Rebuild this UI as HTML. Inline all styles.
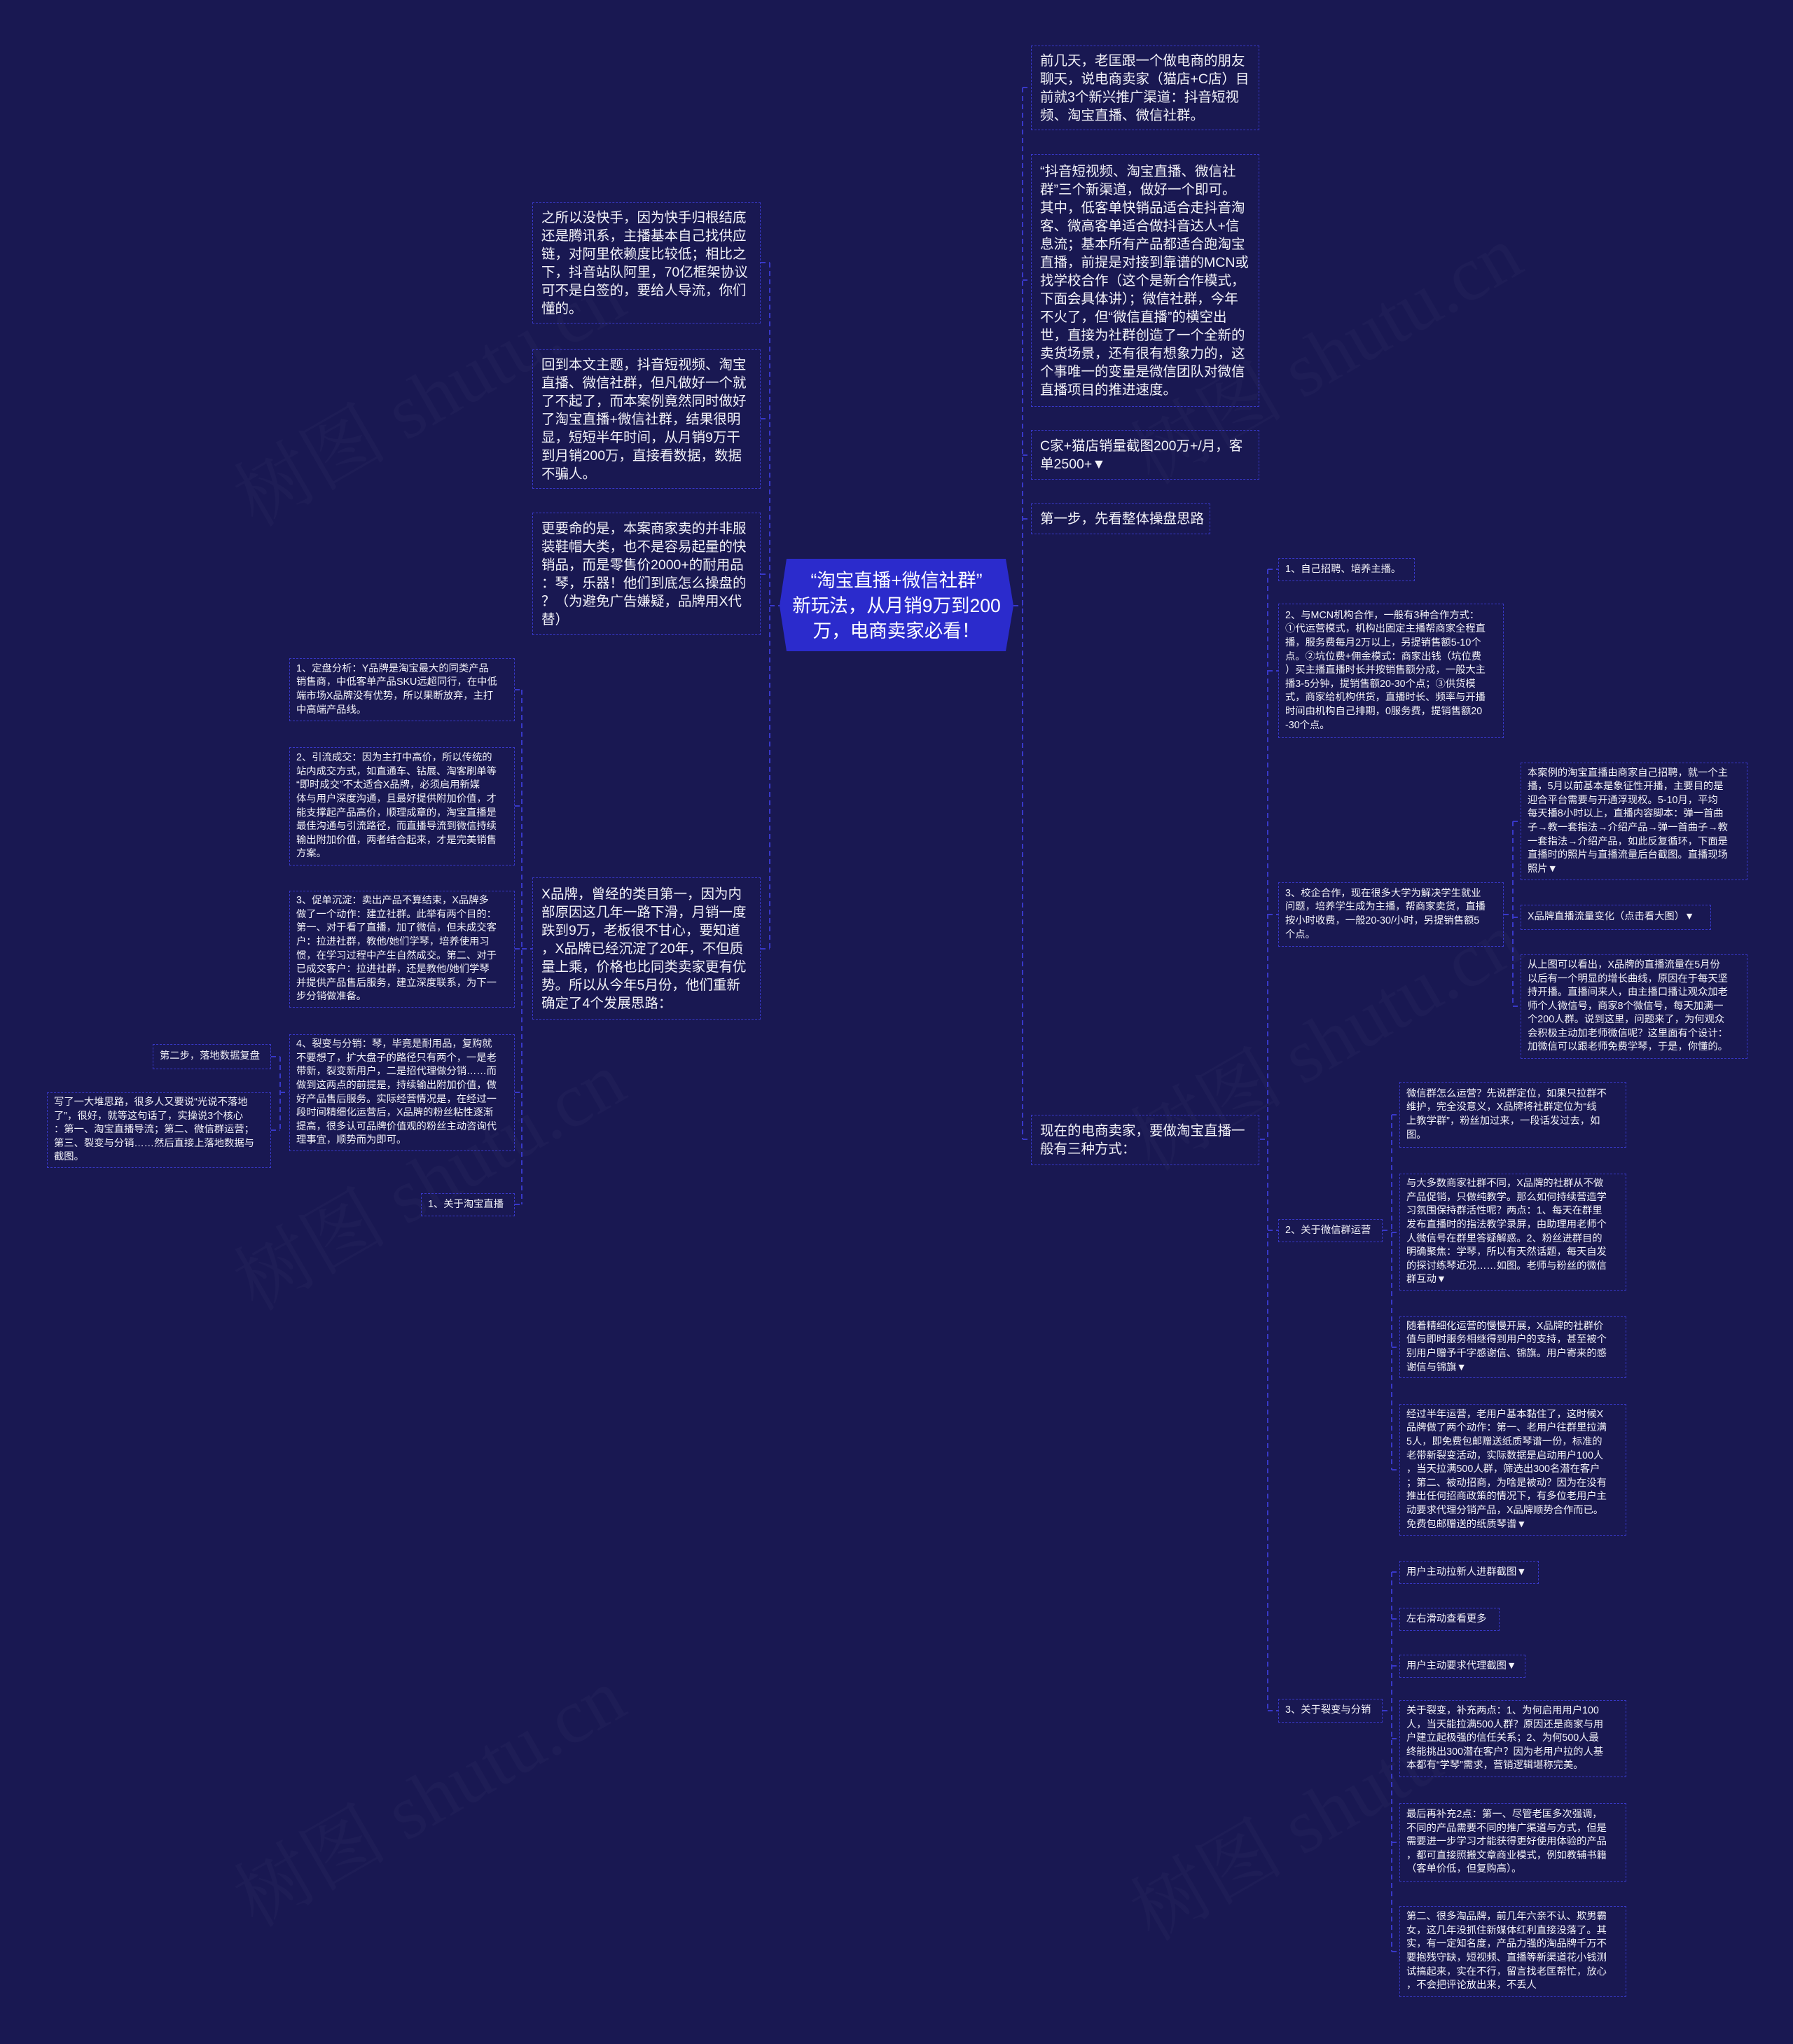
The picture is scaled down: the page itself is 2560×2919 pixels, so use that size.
<!DOCTYPE html>
<html><head><meta charset="utf-8">
<style>
html,body{margin:0;padding:0}
body{width:2560px;height:2919px;background:#191852;position:relative;overflow:hidden;font-family:"Liberation Sans","Noto Sans CJK SC",sans-serif;color:#f2f2f8}
.b{position:absolute;box-sizing:border-box;border:1.5px dashed #3838c8;display:flex;flex-direction:column;justify-content:center;padding:0 10px 0 12px;white-space:nowrap}
.L{font-size:19.5px;line-height:26px}
.S{font-size:14.3px;line-height:19.6px;padding-left:9px}
svg{position:absolute;left:0;top:0}
.wm{position:absolute;font-size:110px;color:rgba(255,255,255,0.025);transform:rotate(-30deg);white-space:nowrap;font-family:"Liberation Serif","Noto Serif CJK SC",serif}
</style></head><body>
<div class="wm" style="left:300px;top:480px">树图 shutu.cn</div>
<div class="wm" style="left:1580px;top:420px">树图 shutu.cn</div>
<div class="wm" style="left:1580px;top:1400px">树图 shutu.cn</div>
<div class="wm" style="left:300px;top:1600px">树图 shutu.cn</div>
<div class="wm" style="left:300px;top:2480px">树图 shutu.cn</div>
<div class="wm" style="left:1580px;top:2500px">树图 shutu.cn</div>

<svg width="2560" height="2919">
<g stroke="#3838c8" stroke-width="2" stroke-dasharray="7,5" fill="none">
<!-- right trunk -->
<line x1="1447" y1="865" x2="1460" y2="865"/>
<line x1="1460" y1="125" x2="1460" y2="1627"/>
<line x1="1460" y1="125" x2="1472" y2="125"/><line x1="1460" y1="400" x2="1472" y2="400"/>
<line x1="1460" y1="650" x2="1472" y2="650"/><line x1="1460" y1="741" x2="1472" y2="741"/>
<line x1="1460" y1="1627" x2="1472" y2="1627"/>
<!-- left trunk -->
<line x1="1099" y1="865" x2="1113" y2="865"/>
<line x1="1099" y1="375" x2="1099" y2="1355"/>
<line x1="1086" y1="375" x2="1099" y2="375"/><line x1="1086" y1="598" x2="1099" y2="598"/>
<line x1="1086" y1="820" x2="1099" y2="820"/><line x1="1086" y1="1355" x2="1099" y2="1355"/>
<!-- I children -->
<line x1="745" y1="1355" x2="760" y2="1355"/>
<line x1="745" y1="985" x2="745" y2="1720"/>
<line x1="735" y1="985" x2="745" y2="985"/><line x1="735" y1="1151" x2="745" y2="1151"/>
<line x1="735" y1="1355" x2="745" y2="1355"/><line x1="735" y1="1560" x2="745" y2="1560"/>
<line x1="735" y1="1720" x2="745" y2="1720"/>
<!-- N/O -->
<line x1="400" y1="1509" x2="400" y2="1614"/>
<line x1="387" y1="1509" x2="400" y2="1509"/><line x1="387" y1="1614" x2="400" y2="1614"/>
<line x1="400" y1="1560" x2="413" y2="1560"/>
<!-- E children -->
<line x1="1799" y1="1627" x2="1810" y2="1627"/>
<line x1="1810" y1="813" x2="1810" y2="2443"/>
<line x1="1810" y1="813" x2="1825" y2="813"/><line x1="1810" y1="958" x2="1825" y2="958"/>
<line x1="1810" y1="1306" x2="1825" y2="1306"/><line x1="1810" y1="1757" x2="1825" y2="1757"/>
<line x1="1810" y1="2443" x2="1825" y2="2443"/>
<!-- S children -->
<line x1="2147" y1="1306" x2="2160" y2="1306"/>
<line x1="2160" y1="1173" x2="2160" y2="1437"/>
<line x1="2160" y1="1173" x2="2171" y2="1173"/><line x1="2160" y1="1310" x2="2171" y2="1310"/>
<line x1="2160" y1="1437" x2="2171" y2="1437"/>
<!-- T children -->
<line x1="1974" y1="1757" x2="1987" y2="1757"/>
<line x1="1987" y1="1592" x2="1987" y2="2099"/>
<line x1="1987" y1="1592" x2="1998" y2="1592"/><line x1="1987" y1="1760" x2="1998" y2="1760"/>
<line x1="1987" y1="1924" x2="1998" y2="1924"/><line x1="1987" y1="2099" x2="1998" y2="2099"/>
<!-- U children -->
<line x1="1974" y1="2443" x2="1987" y2="2443"/>
<line x1="1987" y1="2245" x2="1987" y2="2787"/>
<line x1="1987" y1="2245" x2="1998" y2="2245"/><line x1="1987" y1="2312" x2="1998" y2="2312"/>
<line x1="1987" y1="2379" x2="1998" y2="2379"/><line x1="1987" y1="2483" x2="1998" y2="2483"/>
<line x1="1987" y1="2631" x2="1998" y2="2631"/><line x1="1987" y1="2787" x2="1998" y2="2787"/>
</g>
<polygon points="1123,798 1436,798 1447,865 1436,930 1123,930 1113,865" fill="#2b2bcc"/>
<text x="1280" y="838" fill="#fff" font-size="26.5" text-anchor="middle" font-family="Liberation Sans, Noto Sans CJK SC, sans-serif">“淘宝直播+微信社群”</text>
<text x="1280" y="874" fill="#fff" font-size="26.5" text-anchor="middle" font-family="Liberation Sans, Noto Sans CJK SC, sans-serif">新玩法，从月销9万到200</text>
<text x="1280" y="910" fill="#fff" font-size="26.5" text-anchor="middle" font-family="Liberation Sans, Noto Sans CJK SC, sans-serif">万，电商卖家必看！</text>
</svg>

<!-- right column -->
<div class="b L" style="left:1472px;top:65px;width:326px;height:121px">前几天，老匡跟一个做电商的朋友<br>聊天，说电商卖家（猫店+C店）目<br>前就3个新兴推广渠道：抖音短视<br>频、淘宝直播、微信社群。</div>
<div class="b L" style="left:1472px;top:220px;width:326px;height:361px"> “抖音短视频、淘宝直播、微信社<br>群”三个新渠道，做好一个即可。<br>其中，低客单快销品适合走抖音淘<br>客、微高客单适合做抖音达人+信<br>息流；基本所有产品都适合跑淘宝<br>直播，前提是对接到靠谱的MCN或<br>找学校合作（这个是新合作模式，<br>下面会具体讲）；微信社群，今年<br>不火了，但“微信直播”的横空出<br>世，直接为社群创造了一个全新的<br>卖货场景，还有很有想象力的，这<br>个事唯一的变量是微信团队对微信<br>直播项目的推进速度。</div>
<div class="b L" style="left:1472px;top:614px;width:326px;height:71px">C家+猫店销量截图200万+/月，客<br>单2500+▼</div>
<div class="b L" style="left:1472px;top:719px;width:256px;height:44px">第一步，先看整体操盘思路</div>
<div class="b L" style="left:1472px;top:1592px;width:326px;height:72px">现在的电商卖家，要做淘宝直播一<br>般有三种方式：</div>

<!-- left column -->
<div class="b L" style="left:760px;top:289px;width:326px;height:173px">之所以没快手，因为快手归根结底<br>还是腾讯系，主播基本自己找供应<br>链，对阿里依赖度比较低；相比之<br>下，抖音站队阿里，70亿框架协议<br>可不是白签的，要给人导流，你们<br>懂的。</div>
<div class="b L" style="left:760px;top:499px;width:326px;height:199px">回到本文主题，抖音短视频、淘宝<br>直播、微信社群，但凡做好一个就<br>了不起了，而本案例竟然同时做好<br>了淘宝直播+微信社群，结果很明<br>显，短短半年时间，从月销9万干<br>到月销200万，直接看数据，数据<br>不骗人。</div>
<div class="b L" style="left:760px;top:732px;width:326px;height:175px">更要命的是，本案商家卖的并非服<br>装鞋帽大类，也不是容易起量的快<br>销品，而是零售价2000+的耐用品<br>：琴，乐器！他们到底怎么操盘的<br>？（为避免广告嫌疑，品牌用X代<br>替）</div>
<div class="b L" style="left:760px;top:1253px;width:326px;height:203px">X品牌，曾经的类目第一，因为内<br>部原因这几年一路下滑，月销一度<br>跌到9万，老板很不甘心，要知道<br>，X品牌已经沉淀了20年，不但质<br>量上乘，价格也比同类卖家更有优<br>势。所以从今年5月份，他们重新<br>确定了4个发展思路：</div>

<!-- far left -->
<div class="b S" style="left:413px;top:940px;width:322px;height:90px">1、定盘分析：Y品牌是淘宝最大的同类产品<br>销售商，中低客单产品SKU远超同行，在中低<br>端市场X品牌没有优势，所以果断放弃，主打<br>中高端产品线。</div>
<div class="b S" style="left:413px;top:1067px;width:322px;height:169px">2、引流成交：因为主打中高价，所以传统的<br>站内成交方式，如直通车、钻展、淘客刷单等<br>“即时成交”不太适合X品牌，必须启用新媒<br>体与用户深度沟通，且最好提供附加价值，才<br>能支撑起产品高价，顺理成章的，淘宝直播是<br>最佳沟通与引流路径，而直播导流到微信持续<br>输出附加价值，两者结合起来，才是完美销售<br>方案。</div>
<div class="b S" style="left:413px;top:1272px;width:322px;height:167px">3、促单沉淀：卖出产品不算结束，X品牌多<br>做了一个动作：建立社群。此举有两个目的：<br>第一、对于看了直播，加了微信，但未成交客<br>户：拉进社群，教他/她们学琴，培养使用习<br>惯，在学习过程中产生自然成交。第二、对于<br>已成交客户：拉进社群，还是教他/她们学琴<br>并提供产品售后服务，建立深度联系，为下一<br>步分销做准备。</div>
<div class="b S" style="left:413px;top:1477px;width:322px;height:167px">4、裂变与分销：琴，毕竟是耐用品，复购就<br>不要想了，扩大盘子的路径只有两个，一是老<br>带新，裂变新用户，二是招代理做分销……而<br>做到这两点的前提是，持续输出附加价值，做<br>好产品售后服务。实际经营情况是，在经过一<br>段时间精细化运营后，X品牌的粉丝粘性逐渐<br>提高，很多认可品牌价值观的粉丝主动咨询代<br>理事宜，顺势而为即可。</div>
<div class="b S" style="left:218px;top:1491px;width:169px;height:36px">第二步，落地数据复盘</div>
<div class="b S" style="left:67px;top:1560px;width:320px;height:108px">写了一大堆思路，很多人又要说“光说不落地<br>了”，很好，就等这句话了，实操说3个核心<br>：第一、淘宝直播导流；第二、微信群运营；<br>第三、裂变与分销……然后直接上落地数据与<br>截图。</div>
<div class="b S" style="left:601px;top:1704px;width:134px;height:33px">1、关于淘宝直播</div>

<!-- right small column -->
<div class="b S" style="left:1825px;top:797px;width:195px;height:33px">1、自己招聘、培养主播。</div>
<div class="b S" style="left:1825px;top:862px;width:322px;height:192px">2、与MCN机构合作，一般有3种合作方式：<br>①代运营模式，机构出固定主播帮商家全程直<br>播，服务费每月2万以上，另提销售额5-10个<br>点。②坑位费+佣金模式：商家出钱（坑位费<br>）买主播直播时长并按销售额分成，一般大主<br>播3-5分钟，提销售额20-30个点；③供货模<br>式，商家给机构供货，直播时长、频率与开播<br>时间由机构自己排期，0服务费，提销售额20<br>-30个点。</div>
<div class="b S" style="left:1825px;top:1260px;width:322px;height:92px">3、校企合作，现在很多大学为解决学生就业<br>问题，培养学生成为主播，帮商家卖货，直播<br>按小时收费，一般20-30/小时，另提销售额5<br>个点。</div>
<div class="b S" style="left:1825px;top:1741px;width:149px;height:33px">2、关于微信群运营</div>
<div class="b S" style="left:1825px;top:2426px;width:149px;height:34px">3、关于裂变与分销</div>

<div class="b S" style="left:2171px;top:1089px;width:324px;height:168px">本案例的淘宝直播由商家自己招聘，就一个主<br>播，5月以前基本是象征性开播，主要目的是<br>迎合平台需要与开通浮现权。5-10月，平均<br>每天播8小时以上，直播内容脚本：弹一首曲<br>子→教一套指法→介绍产品→弹一首曲子→教<br>一套指法→介绍产品，如此反复循环，下面是<br>直播时的照片与直播流量后台截图。直播现场<br>照片▼</div>
<div class="b S" style="left:2171px;top:1292px;width:272px;height:36px">X品牌直播流量变化（点击看大图）▼</div>
<div class="b S" style="left:2171px;top:1363px;width:324px;height:149px">从上图可以看出，X品牌的直播流量在5月份<br>以后有一个明显的增长曲线，原因在于每天坚<br>持开播。直播间来人，由主播口播让观众加老<br>师个人微信号，商家8个微信号，每天加满一<br>个200人群。说到这里，问题来了，为何观众<br>会积极主动加老师微信呢？这里面有个设计：<br>加微信可以跟老师免费学琴，于是，你懂的。</div>

<div class="b S" style="left:1998px;top:1545px;width:324px;height:94px">微信群怎么运营？先说群定位，如果只拉群不<br>维护，完全没意义，X品牌将社群定位为“线<br>上教学群”，粉丝加过来，一段话发过去，如<br>图。</div>
<div class="b S" style="left:1998px;top:1676px;width:324px;height:167px">与大多数商家社群不同，X品牌的社群从不做<br>产品促销，只做纯教学。那么如何持续营造学<br>习氛围保持群活性呢？两点：1、每天在群里<br>发布直播时的指法教学录屏，由助理用老师个<br>人微信号在群里答疑解惑。2、粉丝进群目的<br>明确聚焦：学琴，所以有天然话题，每天自发<br>的探讨练琴近况……如图。老师与粉丝的微信<br>群互动▼</div>
<div class="b S" style="left:1998px;top:1880px;width:324px;height:88px">随着精细化运营的慢慢开展，X品牌的社群价<br>值与即时服务相继得到用户的支持，甚至被个<br>别用户赠予千字感谢信、锦旗。用户寄来的感<br>谢信与锦旗▼</div>
<div class="b S" style="left:1998px;top:2005px;width:324px;height:188px">经过半年运营，老用户基本黏住了，这时候X<br>品牌做了两个动作：第一、老用户往群里拉满<br>5人，即免费包邮赠送纸质琴谱一份，标准的<br>老带新裂变活动，实际数据是启动用户100人<br>，当天拉满500人群，筛选出300名潜在客户<br>；第二、被动招商，为啥是被动？因为在没有<br>推出任何招商政策的情况下，有多位老用户主<br>动要求代理分销产品，X品牌顺势合作而已。<br>免费包邮赠送的纸质琴谱▼</div>
<div class="b S" style="left:1998px;top:2229px;width:199px;height:33px">用户主动拉新人进群截图▼</div>
<div class="b S" style="left:1998px;top:2296px;width:143px;height:33px">左右滑动查看更多</div>
<div class="b S" style="left:1998px;top:2363px;width:180px;height:33px">用户主动要求代理截图▼</div>
<div class="b S" style="left:1998px;top:2428px;width:324px;height:110px">关于裂变，补充两点：1、为何启用用户100<br>人，当天能拉满500人群？原因还是商家与用<br>户建立起极强的信任关系；2、为何500人最<br>终能挑出300潜在客户？因为老用户拉的人基<br>本都有“学琴”需求，营销逻辑堪称完美。</div>
<div class="b S" style="left:1998px;top:2575px;width:324px;height:112px">最后再补充2点：第一、尽管老匡多次强调，<br>不同的产品需要不同的推广渠道与方式，但是<br>需要进一步学习才能获得更好使用体验的产品<br>，都可直接照搬文章商业模式，例如教辅书籍<br>（客单价低，但复购高）。</div>
<div class="b S" style="left:1998px;top:2722px;width:324px;height:130px">第二、很多淘品牌，前几年六亲不认、欺男霸<br>女，这几年没抓住新媒体红利直接没落了。其<br>实，有一定知名度，产品力强的淘品牌千万不<br>要抱残守缺，短视频、直播等新渠道花小钱测<br>试搞起来，实在不行，留言找老匡帮忙，放心<br>，不会把评论放出来，不丢人</div>
</body></html>
